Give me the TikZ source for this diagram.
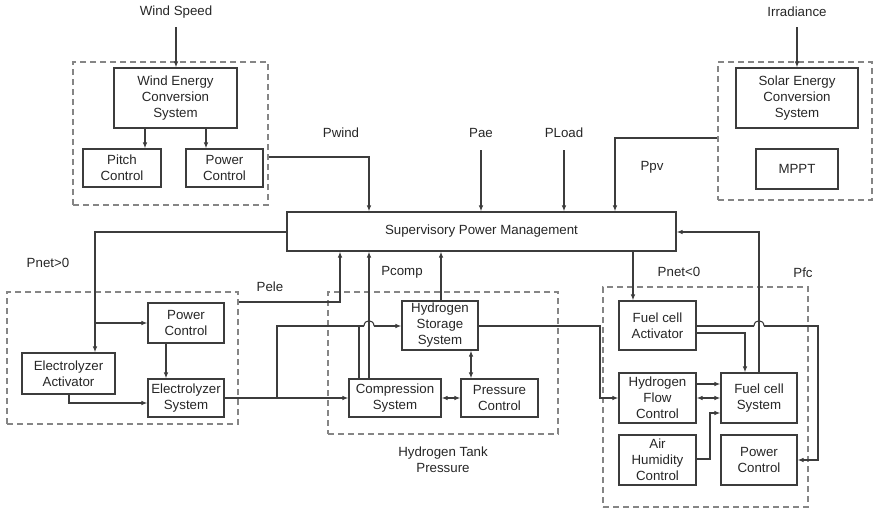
\documentclass[tikz,border=0pt]{standalone}
\usepackage{fontspec}
\setmainfont{Liberation Sans}
\usetikzlibrary{arrows.meta}
\definecolor{ln}{HTML}{3C3C3C}
\definecolor{dg}{HTML}{858585}
\begin{document}
\begin{tikzpicture}[x=1pt,y=-1pt,
  every node/.style={font=\fontsize{13.3}{16}\selectfont, text=black!85, inner sep=0pt},
  box/.style={draw=ln, line width=1.1pt, rectangle, align=center},
  grp/.style={draw=dg, line width=1.1pt, dash pattern=on 6pt off 4pt, rectangle},
  lbl/.style={align=center},
  conn/.style={draw=ln, line width=1.1pt},
  arr/.style={conn, -{Latex[length=6pt,width=4.5pt]}},
  darr/.style={conn, {Latex[length=6pt,width=4.5pt]}-{Latex[length=6pt,width=4.5pt]}}]
\useasboundingbox (0,0) rectangle (874,512);
% groups
\node[grp, minimum width=195, minimum height=143] (wg) at (170.5,133.5) {};
\node[grp, minimum width=154, minimum height=138] (sg) at (795,131) {};
\node[grp, minimum width=231, minimum height=132] (eg) at (122.5,358) {};
\node[grp, minimum width=230, minimum height=142] (hg) at (443,363) {};
\node[grp, minimum width=205, minimum height=220] (fg) at (705.5,397) {};
% boxes
\node[box, minimum width=123, minimum height=60] (wecs) at (175.5,98) {Wind Energy\\Conversion\\System};
\node[box, minimum width=78, minimum height=38] (pitch) at (122,168) {Pitch\\Control};
\node[box, minimum width=77, minimum height=38] (wpc) at (224.5,168) {Power\\Control};
\node[box, minimum width=389, minimum height=39] (spm) at (481.5,231.5) {Supervisory Power Management};
\node[box, minimum width=122, minimum height=60] (secs) at (797,98) {Solar Energy\\Conversion\\System};
\node[box, minimum width=82, minimum height=40] (mppt) at (797,169) {MPPT};
\node[box, minimum width=76, minimum height=40] (epc) at (186,323) {Power\\Control};
\node[box, minimum width=93, minimum height=41] (eact) at (68.5,373.5) {Electrolyzer\\Activator};
\node[box, minimum width=76, minimum height=38] (esys) at (186,398) {Electrolyzer\\System};
\node[box, minimum width=92, minimum height=38] (comp) at (395,398) {Compression\\System};
\node[box, minimum width=77, minimum height=38] (pres) at (499.5,398) {Pressure\\Control};
\node[box, minimum width=76, minimum height=49] (hss) at (440,325.5) {Hydrogen\\Storage\\System};
\node[box, minimum width=77, minimum height=49] (fca) at (657.5,325.5) {Fuel cell\\Activator};
\node[box, minimum width=77, minimum height=50] (hfc) at (657.5,398) {Hydrogen\\Flow\\Control};
\node[box, minimum width=77, minimum height=50] (ahc) at (657.5,460) {Air\\Humidity\\Control};
\node[box, minimum width=76, minimum height=50] (fcs) at (759,398) {Fuel cell\\System};
\node[box, minimum width=76, minimum height=50] (fpc) at (759,460) {Power\\Control};
% labels
\node[lbl] (ws) at (176,12) {Wind Speed};
\node[lbl] (irr) at (797,12) {Irradiance};
\node[lbl] (pwind) at (341,133) {Pwind};
\node[lbl] (pae) at (481,133) {Pae};
\node[lbl] (pload) at (564,133) {PLoad};
\node[lbl] (ppv) at (652,167) {Ppv};
\node[lbl] (pnetp) at (48,263) {Pnet>0};
\node[lbl] (pele) at (270,287) {Pele};
\node[lbl] (pcomp) at (402,272) {Pcomp};
\node[lbl] (pnetn) at (679,272) {Pnet<0};
\node[lbl] (pfc) at (803,273) {Pfc};
\node[lbl] (htp) at (443,459.5) {Hydrogen Tank\\Pressure};
% connectors
\draw[arr] (ws.south |- 0,27) -- (wecs.north -| ws.south);
\draw[arr] (irr.south |- 0,27) -- (secs.north);
\draw[arr] (wecs.south -| 145,0) -- (pitch.north -| 145,0);
\draw[arr] (wecs.south -| 206,0) -- (wpc.north -| 206,0);
\draw[arr] (wg.east |- 0,157) -| (spm.north -| 369,0);
\draw[arr] (pae.south |- 0,150) -- (pae.south |- spm.north);
\draw[arr] (pload.south |- 0,150) -- (pload.south |- spm.north);
\draw[arr] (sg.west |- 0,138) -| (spm.north -| 615,0);
% electrolyzer side
\coordinate (pb) at (95,323);
\draw[arr] (spm.west |- 0,232) -| (eact.north -| pb);
\draw[arr] (pb) -- (epc.west);
\draw[arr] (epc.south -| 166,0) -- (esys.north -| 166,0);
\draw[arr] (eact.south -| 69,0) |- (esys.west |- 0,403);
\draw[arr] (eg.east |- 0,302) -| (spm.south -| 340,0);
\draw[arr] (esys.east) -- (comp.west);
\coordinate (br) at (277,398);
\coordinate (h1a) at (364,326);
\coordinate (h1b) at (374,326);
\draw[conn] (br) |- (h1a);
\draw[conn] (h1a) .. controls (364,319) and (374,319) .. (h1b);
\draw[arr] (h1b) -- (hss.west |- h1b);
% hydrogen tank
\draw[arr] (comp.north -| 369,0) -- (spm.south -| 369,0);
\draw[conn] (comp.north -| 359,0) -- (359,326);
\draw[arr] (hss.north -| 441,0) -- (spm.south -| 441,0);
\draw[darr] (hss.south -| 471,0) -- (pres.north -| 471,0);
\draw[darr] (comp.east) -- (pres.west);
\draw[arr] (hss.east |- 0,326) -- (600,326) |- (hfc.west);
% fuel cell
\draw[arr] (spm.south -| 633,0) -- (fca.north -| 633,0);
\draw[arr] (fcs.north) |- (spm.east |- 0,232);
\coordinate (h2a) at (754,326);
\coordinate (h2b) at (764,326);
\draw[conn] (fca.east |- h2a) -- (h2a);
\draw[conn] (h2a) .. controls (754,319) and (764,319) .. (h2b);
\draw[arr] (h2b) -- (818,326) |- (fpc.east);
\draw[arr] (fca.east |- 0,333) -| (fcs.north -| 745,0);
\draw[arr] (hfc.east |- 0,384) -- (fcs.west |- 0,384);
\draw[darr] (hfc.east) -- (fcs.west);
\draw[arr] (ahc.east |- 0,459) -| (710,413) -- (fcs.west |- 0,413);
\end{tikzpicture}
\end{document}
